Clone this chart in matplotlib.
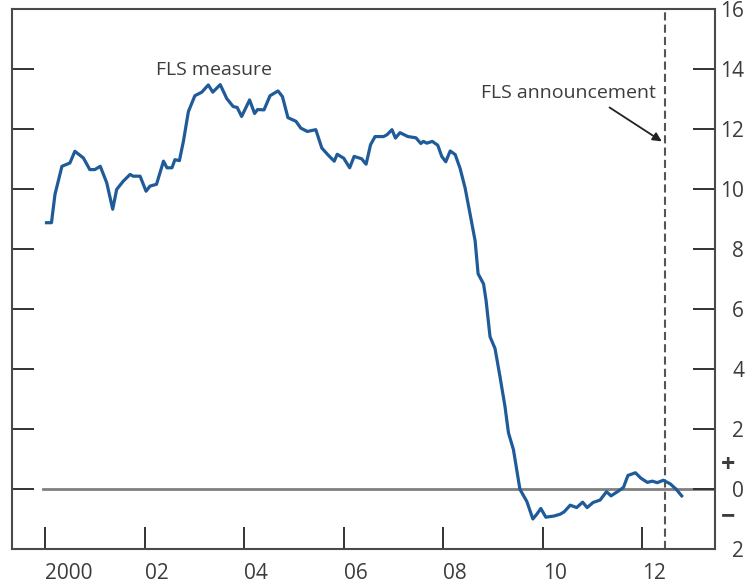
import matplotlib
matplotlib.use("Agg")
import matplotlib.pyplot as plt
import matplotlib.transforms as mtransforms

plt.rcParams['font.family'] = ['Open Sans', 'DejaVu Sans']

# ---- data (decimal year, percentage points) ----
years = [2000.03, 2000.13, 2000.20, 2000.34, 2000.50, 2000.60, 2000.77, 2000.90, 2001.00, 2001.11,
         2001.24, 2001.36, 2001.44, 2001.57, 2001.71, 2001.77, 2001.91, 2002.03, 2002.11, 2002.24,
         2002.38, 2002.45, 2002.55, 2002.61, 2002.70, 2002.78, 2002.88, 2003.01, 2003.15, 2003.28,
         2003.37, 2003.52, 2003.65, 2003.78, 2003.86, 2003.95, 2004.11, 2004.21, 2004.27, 2004.40,
         2004.52, 2004.68, 2004.77, 2004.88, 2005.04, 2005.14, 2005.27, 2005.44, 2005.56, 2005.69,
         2005.81, 2005.87, 2006.00, 2006.12, 2006.21, 2006.36, 2006.45, 2006.54, 2006.63, 2006.80,
         2006.87, 2006.97, 2007.04, 2007.13, 2007.29, 2007.45, 2007.55, 2007.60, 2007.67, 2007.78,
         2007.89, 2007.97, 2008.05, 2008.14, 2008.24, 2008.34, 2008.44, 2008.54, 2008.64, 2008.70,
         2008.81, 2008.86, 2008.94, 2009.04, 2009.14, 2009.24, 2009.31, 2009.41, 2009.54, 2009.68,
         2009.80, 2009.88, 2009.96, 2010.06, 2010.23, 2010.35, 2010.43, 2010.55, 2010.68, 2010.80,
         2010.89, 2011.01, 2011.15, 2011.28, 2011.37, 2011.50, 2011.62, 2011.71, 2011.86, 2011.97,
         2012.10, 2012.20, 2012.30, 2012.42, 2012.56, 2012.68, 2012.79]
fls_measure = [8.88, 8.88, 9.82, 10.76, 10.87, 11.26, 11.04, 10.65, 10.65, 10.76,
               10.21, 9.33, 9.99, 10.26, 10.49, 10.43, 10.43, 9.93, 10.10, 10.16,
               10.93, 10.71, 10.71, 10.98, 10.95, 11.59, 12.58, 13.11, 13.23, 13.47,
               13.23, 13.48, 13.02, 12.75, 12.72, 12.42, 12.97, 12.52, 12.65, 12.64,
               13.11, 13.27, 13.08, 12.38, 12.26, 12.03, 11.92, 11.98, 11.37, 11.13,
               10.93, 11.16, 11.03, 10.71, 11.09, 11.01, 10.83, 11.48, 11.75, 11.75,
               11.81, 11.98, 11.70, 11.88, 11.75, 11.71, 11.52, 11.59, 11.53, 11.59,
               11.46, 11.09, 10.91, 11.27, 11.15, 10.68, 10.03, 9.16, 8.28, 7.18,
               6.84, 6.29, 5.08, 4.69, 3.75, 2.76, 1.88, 1.32, 0.00, -0.41,
               -0.99, -0.83, -0.64, -0.93, -0.89, -0.83, -0.75, -0.53, -0.61, -0.43,
               -0.61, -0.44, -0.36, -0.08, -0.22, -0.08, 0.06, 0.46, 0.55, 0.37,
               0.23, 0.27, 0.22, 0.30, 0.18, 0.00, -0.22]

x_ticks = [2000, 2002, 2004, 2006, 2008, 2010, 2012]
x_tick_labels = ['2000', '02', '04', '06', '08', '10', '12']
y_ticks = [16, 14, 12, 10, 8, 6, 4, 2, 0, -2]
y_tick_labels = ['16', '14', '12', '10', '8', '6', '4', '2', '0', '2']
announcement_year = 2012.45
zero_line_start = 1999.95

# ---- figure ----
fig = plt.figure(figsize=(7.47, 5.88), dpi=100)
ax = fig.add_axes([12/747, 1 - 549.3/588, (715 - 12)/747, (549.3 - 9)/588])

xlim = (1999.337, 2013.459)
ylim = (-1.97, 15.93)
ax.set_xlim(*xlim)
ax.set_ylim(*ylim)

text_color = '#3c3c3c'
spine_color = '#4a4a4a'

# zero line
ax.axhline(0, xmin=(zero_line_start - xlim[0]) / (xlim[1] - xlim[0]), xmax=1,
           color='#808080', lw=2.0, zorder=1)

# announcement dashed line
ax.axvline(announcement_year, color='#555555', lw=1.5, ls=(0, (3.9, 2.0)), zorder=1)

# series
ax.plot(years, fls_measure, color='#1f5b99', lw=2.3, solid_joinstyle='round', zorder=3)

# spines
for s in ax.spines.values():
    s.set_color(spine_color)
    s.set_linewidth(1.5)

# ticks
ax.set_xticks(x_ticks)
ax.set_xticklabels(x_tick_labels)
ax.set_yticks(y_ticks)
ax.set_yticklabels(y_tick_labels)
ax.tick_params(axis='x', direction='in', length=16, width=1.4, color='#333333',
               labelsize=15, labelcolor=text_color, pad=10)
for t in ax.xaxis.get_majorticklabels():
    t.set_horizontalalignment('left')
ax.tick_params(axis='y', direction='in', length=16, width=1.4, color='#333333',
               left=True, right=True, labelleft=False, labelright=True,
               labelsize=15, labelcolor=text_color, pad=21)
for t in ax.yaxis.get_majorticklabels():
    t.set_horizontalalignment('right')

# + / − signs next to zero
trans = mtransforms.blended_transform_factory(ax.transAxes, ax.transData)
ax.text(1.0190, 0.80, '+', transform=trans, ha='center', va='center',
        fontsize=18, fontweight='bold', color=text_color, clip_on=False)
ax.text(1.0190, -0.90, '\u2212', transform=trans, ha='center', va='center',
        fontsize=18, fontweight='bold', color=text_color, clip_on=False)

# annotations
ax.text(2003.40, 13.98, 'FLS measure', ha='center', va='center',
        fontsize=14, color=text_color)
ax.text(2012.28, 13.19, 'FLS announcement', ha='right', va='center',
        fontsize=14, color=text_color)
ax.annotate('', xy=(2012.39, 11.59), xytext=(2011.34, 12.72),
            arrowprops=dict(arrowstyle='-|>', color='#222222', lw=1.3,
                            mutation_scale=13, shrinkA=0, shrinkB=0))

fig.savefig('out.png', dpi=100)
